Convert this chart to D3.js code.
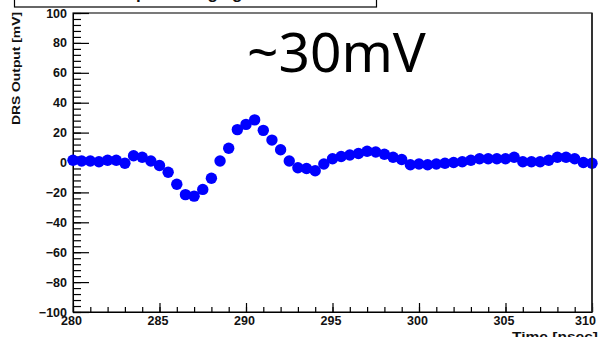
<!DOCTYPE html>
<html>
<head>
<meta charset="utf-8">
<script src="https://cdn.jsdelivr.net/npm/d3@7"></script>
<style>
  html, body { margin: 0; padding: 0; background: #fff; }
  svg { display: block; }
  .tick text { font-family: "Liberation Sans", Arial, sans-serif; font-weight: bold; fill: #111; }
</style>
</head>
<body>
<svg id="chart" width="598" height="337"></svg>
<script>
// DRS4 waveform: sample times (ns) and recorded output (mV)
const sampleTimes = [
  280.0, 280.5, 281.0, 281.5, 282.0, 282.5, 283.0, 283.5, 284.0, 284.5,
  285.0, 285.5, 286.0, 286.5, 287.0, 287.5, 288.0, 288.5, 289.0, 289.5,
  290.0, 290.5, 291.0, 291.5, 292.0, 292.5, 293.0, 293.5, 294.0, 294.5,
  295.0, 295.5, 296.0, 296.5, 297.0, 297.5, 298.0, 298.5, 299.0, 299.5,
  300.0, 300.5, 301.0, 301.5, 302.0, 302.5, 303.0, 303.5, 304.0, 304.5,
  305.0, 305.5, 306.0, 306.5, 307.0, 307.5, 308.0, 308.5, 309.0, 309.5,
  310.0
];
const outputMv = [
  1.5, 1.0, 1.0, 0.5, 1.5, 1.5, -0.5, 4.5, 3.5, 1.0,
  -2.0, -6.5, -14.5, -21.5, -22.5, -18.0, -10.5, 1.0, 9.5, 22.0,
  25.5, 28.5, 21.5, 15.0, 8.5, 1.0, -3.5, -4.0, -5.5, -1.0,
  2.5, 4.0, 5.0, 6.0, 7.5, 7.0, 5.5, 3.5, 2.0, -1.5,
  -1.0, -1.5, -1.0, -0.5, 0.0, 0.5, 1.5, 2.5, 2.5, 2.5,
  2.5, 3.5, 0.5, 0.5, 0.5, 1.5, 3.5, 3.5, 2.5, 0.0,
  -0.5
];

const xMajorTicks = [280, 285, 290, 295, 300, 305, 310];
const yMajorTicks = [-100, -80, -60, -40, -20, 0, 20, 40, 60, 80, 100];
const xTitle = "Time [nsec]";
const yTitle = "DRS Output [mV]";
const histTitle = "Input Voltage gain";
const annotation = "~30mV";

const svg = d3.select("#chart");
const frame = { left: 73, top: 13, right: 592, bottom: 312 };

const x = d3.scaleLinear().domain([280, 310]).range([frame.left, frame.right]);
const y = d3.scaleLinear().domain([-100, 100]).range([frame.bottom, frame.top]);

// title box, mostly above the visible area
svg.append("rect")
  .attr("x", 14.5).attr("y", -30).attr("width", 362).attr("height", 37)
  .attr("fill", "#fff").attr("stroke", "#000").attr("stroke-width", 1.2);
svg.append("text")
  .attr("x", 194).attr("y", -1.5)
  .attr("text-anchor", "middle")
  .attr("font-family", "Liberation Sans, Arial, sans-serif")
  .attr("font-weight", "bold").attr("font-size", 17)
  .attr("fill", "#111")
  .text(histTitle);

// plot frame
svg.append("rect")
  .attr("x", frame.left).attr("y", frame.top)
  .attr("width", frame.right - frame.left).attr("height", frame.bottom - frame.top)
  .attr("fill", "none").attr("stroke", "#222").attr("stroke-width", 1.2);

// y axis: minor ticks, then labelled major ticks (ticks point into the frame)
const yMinor = d3.range(-100, 100.01, 4);
svg.append("g")
  .attr("transform", `translate(${frame.left},0)`)
  .call(d3.axisLeft(y).tickValues(yMinor).tickSizeInner(-8).tickSizeOuter(0).tickFormat(""))
  .call(g => g.select(".domain").remove());
svg.append("g")
  .attr("transform", `translate(${frame.left},0)`)
  .call(d3.axisLeft(y).tickValues(yMajorTicks).tickSizeInner(-16).tickSizeOuter(0).tickPadding(6).tickFormat(d3.format("d")))
  .call(g => g.selectAll(".tick text").attr("font-size", 12.5))
  .call(g => g.select(".domain").attr("stroke", "#000"));

// x axis
const xMinor = d3.range(280, 310.01, 1);
svg.append("g")
  .attr("transform", `translate(0,${frame.bottom})`)
  .call(d3.axisBottom(x).tickValues(xMinor).tickSizeInner(-5).tickSizeOuter(0).tickFormat(""))
  .call(g => g.select(".domain").remove());
svg.append("g")
  .attr("transform", `translate(0,${frame.bottom})`)
  .call(d3.axisBottom(x).tickValues(xMajorTicks).tickSizeInner(-9).tickSizeOuter(0).tickPadding(4).tickFormat(d3.format("d")))
  .call(g => g.selectAll(".tick text")
    .attr("font-size", 12.5).attr("y", 4)
    .attr("dx", d => d === 310 ? -7 : -2))
  .call(g => g.select(".domain").attr("stroke", "#000"));

svg.selectAll(".tick line").attr("stroke", "#000").attr("stroke-width", 1.2);

// axis titles
svg.append("text")
  .attr("transform", "translate(20,12) rotate(-90)")
  .attr("text-anchor", "end")
  .attr("font-family", "Liberation Sans, Arial, sans-serif")
  .attr("font-weight", "bold").attr("font-size", 11.5)
  .attr("textLength", 113).attr("lengthAdjust", "spacingAndGlyphs")
  .attr("fill", "#111")
  .text(yTitle);
svg.append("text")
  .attr("x", 512).attr("y", 341)
  .attr("font-family", "Liberation Sans, Arial, sans-serif")
  .attr("font-weight", "bold").attr("font-size", 13)
  .attr("textLength", 86).attr("lengthAdjust", "spacingAndGlyphs")
  .attr("fill", "#111")
  .text(xTitle);

// waveform samples as filled markers
const samples = sampleTimes.map((t, i) => ({ t, v: outputMv[i] }));
svg.append("g")
  .selectAll("circle")
  .data(samples)
  .join("circle")
  .attr("cx", d => x(d.t))
  .attr("cy", d => y(d.v))
  .attr("r", 5.7)
  .attr("fill", "#0000ff");

// right frame edge drawn above the markers
svg.append("line")
  .attr("x1", frame.right).attr("x2", frame.right)
  .attr("y1", frame.top).attr("y2", frame.bottom)
  .attr("stroke", "#222").attr("stroke-width", 1.6);

// amplitude annotation
svg.append("text")
  .attr("x", 247).attr("y", 72)
  .attr("font-family", "Noto Sans, sans-serif")
  .attr("font-size", 55)
  .attr("fill", "#000")
  .text(annotation);
</script>
</body>
</html>
